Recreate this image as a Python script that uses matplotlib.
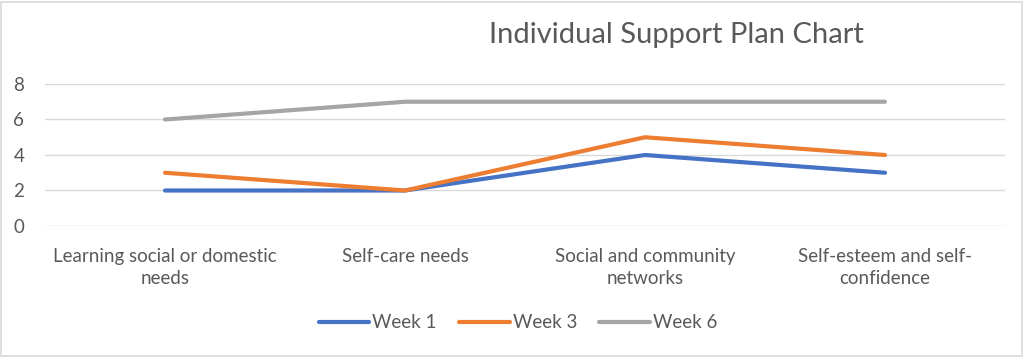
import matplotlib
matplotlib.use("Agg")
import matplotlib.pyplot as plt
from matplotlib.patches import Rectangle

categories = ["Learning social or domestic\nneeds", "Self-care needs",
              "Social and community\nnetworks", "Self-esteem and self-\nconfidence"]
week1 = [2, 2, 4, 3]
week3 = [3, 2, 5, 4]
week6 = [6, 7, 7, 7]
yticks = [0, 2, 4, 6, 8]

plt.rcParams['font.family'] = ['Lato', 'DejaVu Sans']
txt = '#595959'
fs = 13.5

fig = plt.figure(figsize=(10.23, 3.58), dpi=100)
ax = fig.add_axes([45/1023, 1-226/358, 960/1023, 142/358])

x = list(range(len(categories)))
ax.plot(x, week1, color='#4472C4', lw=3, label='Week 1', solid_capstyle='round')
ax.plot(x, week3, color='#ED7D31', lw=3, label='Week 3', solid_capstyle='round')
ax.plot(x, week6, color='#A5A5A5', lw=3, label='Week 6', solid_capstyle='round')

ax.set_xlim(-0.5, len(categories)-0.5)
ax.set_ylim(0, 8)
ax.set_yticks(yticks)
ax.set_xticks(x)
ax.set_xticklabels(categories, fontsize=fs, color=txt, linespacing=1.35)
ax.tick_params(axis='y', labelsize=fs, labelcolor=txt, length=0, pad=15)
ax.tick_params(axis='x', length=0, pad=16)
ax.grid(axis='y', color='#D9D9D9', lw=1)
ax.set_axisbelow(True)
for s in ax.spines.values():
    s.set_visible(False)

fig.text(676/1023, 1-35/358, "Individual Support Plan Chart", fontsize=21, color=txt,
         ha='center', va='center', fontweight='normal')

fig.legend(loc='center', bbox_to_anchor=(518/1023, 1-323/358), ncol=3, frameon=False,
           fontsize=fs, labelcolor=txt, handlelength=2.7, handletextpad=0.15, columnspacing=1.2)

fig.patches.append(Rectangle((1/1023, 2/358), 1-2/1023, 1-4/358, transform=fig.transFigure,
                             fill=False, edgecolor='#D9D9D9', lw=1.2))

fig.savefig('out.png', dpi=100)
